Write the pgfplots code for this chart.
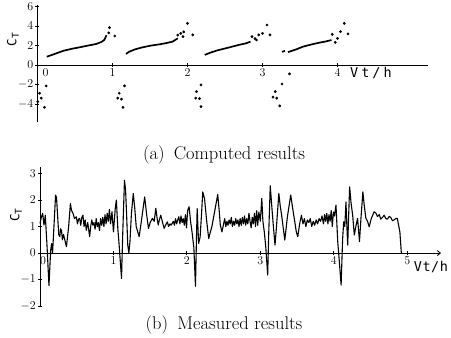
\documentclass[border=0pt]{standalone}
\usepackage{fontspec}
\usepackage{pgfplots}
\pgfplotsset{compat=1.18}
\usetikzlibrary{arrows.meta}
\newfontfamily\tickfont{DejaVu Sans Mono}
\newfontfamily\labfont[LetterSpace=22]{DejaVu Sans Mono}
\newfontfamily\labfontb[LetterSpace=4]{DejaVu Sans Mono}
\pgfplotsset{
  myax/.style={
    scale only axis, axis lines=middle,
    axis line style={line width=0.9pt,-},
    tick align=center, major tick length=4pt,
    tick style={line width=0.8pt, black},
    ticklabel style={font=\tickfont\fontsize{12}{13}\selectfont, inner sep=2pt},
    hide obscured x ticks=false, hide obscured y ticks=false,
    clip=false,
  }
}
\begin{document}
\begin{tikzpicture}
\useasboundingbox (0,0) rectangle (451pt,338pt);
% ---------------- (a) computed ----------------
\begin{axis}[myax,
  at={(37.5pt,215.5pt)}, anchor=south west,
  width=390pt, height=117pt,
  xmin=0, xmax=5.2, ymin=-5.9, ymax=6.1,
  xtick={1,2,3,4}, extra x ticks={0},
  extra x tick style={xticklabel style={xshift=8pt}},
  ytick={-4,-2,0,2,4,6},
  xlabel={\labfont\fontsize{13.5}{14}\selectfont Vt/h},
  ylabel={\tickfont\fontsize{12.5}{13}\selectfont C\raisebox{-0.35ex}{\fontsize{9.5}{9}\selectfont T}},
  every axis x label/.style={at={(axis description cs:0.855,0.425)},anchor=center},
  every axis y label/.style={at={(axis description cs:-0.063,0.71)},rotate=90,anchor=center},
]
\addplot[black, line width=1.7pt] coordinates {(0.124,0.85)(0.2,1.05)(0.34,1.44)(0.45,1.65)(0.56,1.81)(0.68,2.0)(0.78,2.15)(0.85,2.35)(0.89,2.56)(0.92,3.05)};
\addplot[black, line width=1.7pt] coordinates {(1.18,1.13)(1.22,1.35)(1.30,1.6)(1.40,1.81)(1.52,2.0)(1.63,2.12)(1.72,2.25)(1.80,2.39)(1.87,2.73)};
\addplot[black, line width=1.7pt] coordinates {(2.23,1.03)(2.3,1.25)(2.4,1.5)(2.56,1.81)(2.68,2.05)(2.78,2.22)(2.84,2.39)};
\addplot[black, line width=1.7pt] coordinates {(3.26,1.35)(3.30,1.45)};
\addplot[black, line width=1.7pt] coordinates {(3.34,1.32)(3.45,1.6)(3.54,1.88)(3.65,2.1)(3.76,2.29)(3.85,2.42)(3.92,2.56)};
\addplot[black, only marks, mark=*, mark size=1.2pt] coordinates {
 (0.96,3.83)(1.03,2.97)(0.95,3.3)
 (1.87,3.07)(1.91,3.24)(1.95,3.4)(1.94,2.9)(2.0,4.27)(2.07,3.08)
 (2.86,2.9)(2.92,2.56)(2.95,3.08)(3.0,3.24)(3.06,4.1)(3.1,3.08)(2.9,2.7)
 (3.93,3.14)(3.97,2.32)(4.0,2.73)(4.04,3.41)(4.09,4.27)(4.14,3.18)
 (0.116,-2.15)(0.027,-2.9)(0.05,-3.4)(0.004,-3.76)(0.093,-4.34)
 (1.16,-2.15)(1.09,-2.9)(1.07,-3.4)(1.12,-3.5)(1.14,-4.34)
 (2.18,-2.05)(2.12,-2.74)(2.11,-3.4)(2.16,-3.45)(2.18,-4.27)
 (3.26,-1.95)(3.17,-2.74)(3.14,-3.3)(3.19,-3.4)(3.23,-4.2)(3.36,-0.92)
};
\end{axis}
% ---------------- (b) measured ----------------
\begin{axis}[myax,
  at={(40pt,32pt)}, anchor=south west,
  width=401pt, height=139pt,
  xmin=0, xmax=5.46, ymin=-2, ymax=3.25,
  x axis line style={-{Straight Barb[length=3pt,width=5pt]}},
  xtick={1,2,3,4,5}, extra x ticks={0},
  extra x tick style={xticklabel style={xshift=3pt}},
  ytick={-2,-1,0,1,2,3},
  xlabel={\labfontb\fontsize{13.5}{14}\selectfont Vt/h},
  ylabel={\tickfont\fontsize{12.5}{13}\selectfont C\raisebox{-0.35ex}{\fontsize{9.5}{9}\selectfont T}},
  every axis x label/.style={at={(axis description cs:0.975,0.28)},anchor=center},
  every axis y label/.style={at={(axis description cs:-0.06,0.655)},rotate=90,anchor=center},
]
\addplot[black, line width=1.1pt, line join=round] coordinates {
(0,1.12)(0.018,1.35)(0.036,1.5)(0.054,1.06)(0.072,1.43)(0.095,0.3)(0.122,-1.23)(0.145,0.1)(0.158,0.36)(0.171,0.0)(0.19,1.0)(0.212,2.19)(0.225,2.1)(0.255,0.7)(0.27,0.62)(0.28,0.92)(0.293,0.85)(0.305,0.5)(0.32,0.7)(0.36,0.24)(0.39,1.0)(0.414,1.87)(0.43,1.6)(0.45,1.5)(0.47,1.3)(0.495,1.37)(0.51,1.1)(0.525,1.28)(0.54,1.31)(0.555,1.05)(0.57,1.35)(0.585,1.43)(0.6,1.0)(0.615,1.25)(0.63,0.86)(0.65,1.15)(0.676,0.62)(0.69,1.0)(0.705,1.25)(0.72,1.05)(0.735,1.15)(0.75,0.9)(0.765,1.3)(0.78,1.0)(0.795,1.15)(0.81,0.85)(0.825,1.3)(0.84,1.05)(0.855,1.35)(0.87,1.0)(0.885,1.45)(0.9,1.1)(0.915,1.5)(0.93,1.2)(0.945,1.65)(0.96,1.1)(0.98,1.56)(1.0,0.8)(1.025,1.7)(1.04,2.0)(1.06,0.9)(1.075,0.4)(1.11,-0.96)(1.125,0.6)(1.15,2.75)(1.165,2.4)(1.18,1.4)(1.195,0.3)(1.21,0.0)(1.225,0.43)(1.245,1.5)(1.27,2.25)(1.29,1.7)(1.31,1.0)(1.35,0.62)(1.38,1.2)(1.425,2.12)
(1.45,1.5)(1.477,0.93)(1.5,1.15)(1.53,1.31)(1.555,1.2)(1.577,1.69)(1.595,1.3)(1.61,1.06)(1.625,1.25)(1.644,1.43)(1.665,1.2)(1.69,0.93)(1.71,1.05)(1.734,1.18)(1.75,1.0)(1.77,1.1)(1.785,1.05)(1.8,1.12)(1.815,1.2)(1.83,1.05)(1.845,1.3)(1.86,1.1)(1.875,1.25)(1.89,1.37)(1.905,1.1)(1.92,1.4)(1.935,1.15)(1.95,1.3)(1.965,1.05)(1.98,1.45)(1.995,0.95)(2.01,1.6)(2.03,1.75)(2.05,1.2)(2.07,0.8)(2.095,0.2)(2.117,-1.26)(2.13,0.5)(2.14,1.68)(2.16,0.36)(2.18,0.6)(2.2,1.5)(2.216,2.31)(2.24,2.06)(2.27,1.2)(2.297,0.55)(2.32,0.8)(2.34,0.99)(2.38,1.6)(2.42,2.21)(2.44,1.6)(2.455,1.06)(2.477,0.8)(2.5,1.1)(2.515,1.3)(2.53,1.0)(2.545,1.2)(2.56,1.05)(2.575,1.25)(2.59,1.1)(2.605,1.35)(2.62,1.0)(2.635,1.2)(2.65,1.05)(2.665,1.3)(2.68,1.1)(2.695,1.25)(2.71,1.0)(2.725,1.3)(2.74,1.05)(2.755,1.35)(2.77,1.1)(2.785,1.4)(2.8,1.05)(2.815,1.3)(2.83,1.1)(2.845,1.5)
(2.86,1.2)(2.875,0.95)(2.89,1.35)(2.905,1.1)(2.92,1.5)(2.935,1.0)(2.95,1.6)(2.965,1.05)(2.98,1.55)(3.0,1.2)(3.02,2.06)(3.035,1.2)(3.054,0.8)(3.075,0.2)(3.10,-0.83)(3.115,0.8)(3.135,2.54)(3.155,1.8)(3.176,1.06)(3.2,0.3)(3.22,1.0)(3.252,2.25)(3.27,1.8)(3.29,1.43)(3.333,0.49)(3.37,1.4)(3.414,2.19)(3.44,1.7)(3.468,1.2)(3.49,0.8)(3.51,0.62)(3.535,1.1)(3.56,1.43)(3.58,1.1)(3.6,1.3)(3.62,1.0)(3.64,1.25)(3.66,1.15)(3.68,1.3)(3.7,1.0)(3.72,1.2)(3.74,1.05)(3.76,1.25)(3.78,1.1)(3.8,1.3)(3.82,1.2)(3.84,1.4)(3.86,1.1)(3.875,1.45)(3.89,1.2)(3.905,1.5)(3.92,1.1)(3.935,1.45)(3.95,1.2)(3.965,1.6)(3.98,1.0)(3.995,1.55)(4.01,1.4)(4.03,1.81)(4.054,0.43)(4.075,-0.3)(4.10,-1.21)
(4.12,0.5)(4.135,1.18)(4.15,1.0)(4.166,1.93)(4.18,0.9)(4.19,0.3)(4.2,1.2)(4.216,2.5)(4.235,1.9)(4.257,1.43)(4.28,0.68)(4.3,1.0)(4.324,1.31)(4.35,0.43)(4.37,1.3)(4.396,2.31)(4.415,1.8)(4.437,1.31)(4.46,1.2)(4.482,0.99)(4.51,1.3)(4.55,1.56)(4.575,1.5)(4.595,1.38)(4.62,1.45)(4.64,1.28)(4.665,1.35)(4.685,1.43)(4.71,1.3)(4.73,1.28)(4.755,1.38)(4.775,1.35)(4.8,1.22)(4.82,1.25)(4.845,1.3)(4.865,1.31)(4.9,0.8)(4.92,0)
};
\end{axis}
\node[font=\fontsize{18.5}{20}\selectfont] at (224pt,183pt) {(a)\enspace Computed results};
\node[font=\fontsize{18.5}{20}\selectfont] at (224pt,13pt) {(b)\enspace Measured results};
\end{tikzpicture}
\end{document}
